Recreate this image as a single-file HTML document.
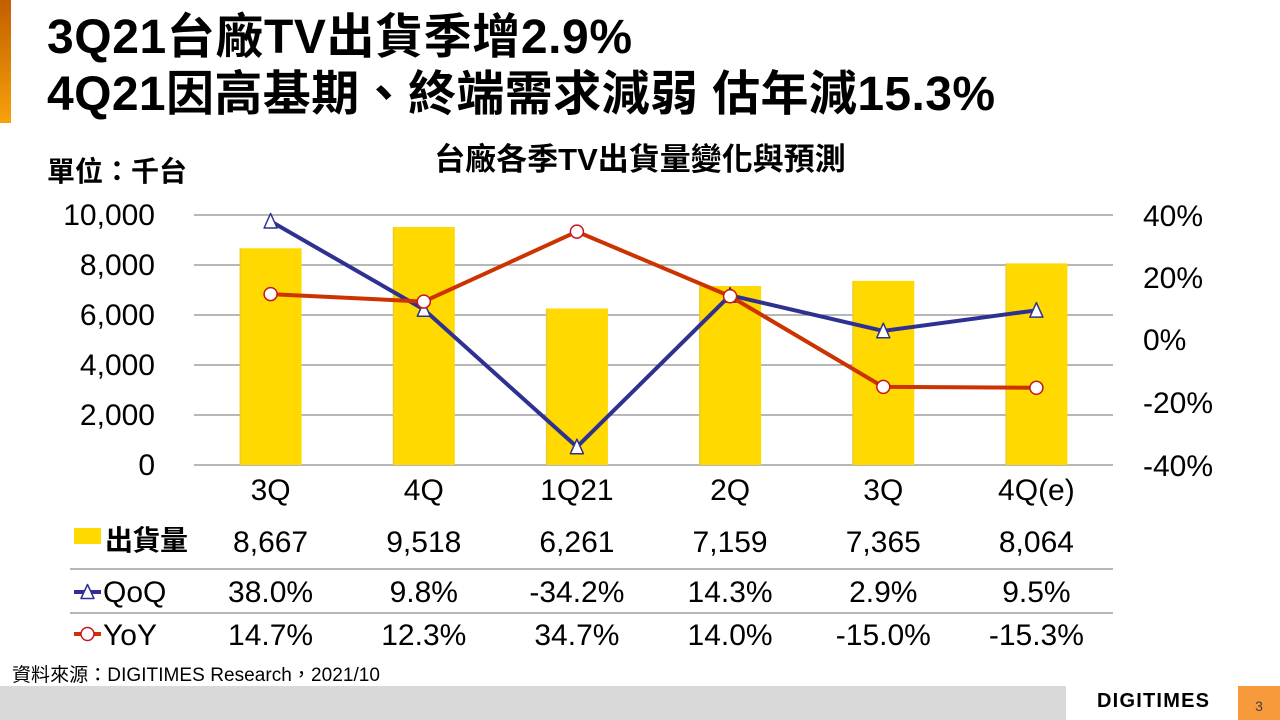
<!DOCTYPE html>
<html>
<head>
<meta charset="utf-8">
<style>
  html,body{margin:0;padding:0;background:#fff;}
  svg{display:block;}
  text{font-family:"Liberation Sans","Noto Sans CJK TC",sans-serif;fill:#000;}
  .b{font-weight:bold;}
</style>
</head>
<body>
<svg width="1280" height="720" viewBox="0 0 1280 720" xmlns="http://www.w3.org/2000/svg">
  <defs>
    <linearGradient id="og" x1="0" y1="0" x2="0" y2="1">
      <stop offset="0" stop-color="#C25E00"/>
      <stop offset="1" stop-color="#F7A10A"/>
    </linearGradient>
    <radialGradient id="cg" cx="0.4" cy="0.35" r="0.7">
      <stop offset="0" stop-color="#ffffff"/>
      <stop offset="0.7" stop-color="#ffffff"/>
      <stop offset="1" stop-color="#e8e0e0"/>
    </radialGradient>
  </defs>

  <!-- left accent bar -->
  <rect x="0" y="0" width="11" height="123" fill="url(#og)"/>

  <!-- titles -->
  <text class="b" x="47" y="53" font-size="48" textLength="585">3Q21台廠TV出貨季增2.9%</text>
  <text class="b" x="47" y="110" font-size="48" textLength="948">4Q21因高基期、終端需求減弱 估年減15.3%</text>

  <text class="b" x="47" y="181" font-size="28" textLength="140">單位：千台</text>
  <text class="b" x="640" y="170" font-size="31" text-anchor="middle">台廠各季TV出貨量變化與預測</text>

  <!-- gridlines -->
  <g stroke="#8c8c8c" stroke-width="1.2">
    <line x1="194" y1="215" x2="1113" y2="215"/>
    <line x1="194" y1="265" x2="1113" y2="265"/>
    <line x1="194" y1="315" x2="1113" y2="315"/>
    <line x1="194" y1="365" x2="1113" y2="365"/>
    <line x1="194" y1="415" x2="1113" y2="415"/>
    <line x1="194" y1="465" x2="1113" y2="465"/>
  </g>

  <!-- left axis labels -->
  <g font-size="30" text-anchor="end">
    <text x="155" y="225">10,000</text>
    <text x="155" y="275">8,000</text>
    <text x="155" y="325">6,000</text>
    <text x="155" y="375">4,000</text>
    <text x="155" y="425">2,000</text>
    <text x="155" y="475">0</text>
  </g>

  <!-- right axis labels -->
  <g font-size="30">
    <text x="1143" y="226">40%</text>
    <text x="1143" y="288">20%</text>
    <text x="1143" y="350">0%</text>
    <text x="1143" y="413">-20%</text>
    <text x="1143" y="476">-40%</text>
  </g>

  <!-- bars -->
  <g fill="#FFD900">
    <rect x="239.6" y="248.3" width="62" height="216.7"/>
    <rect x="392.8" y="227.0" width="62" height="238.0"/>
    <rect x="545.9" y="308.5" width="62" height="156.5"/>
    <rect x="699.1" y="286.0" width="62" height="179.0"/>
    <rect x="852.3" y="280.9" width="62" height="184.1"/>
    <rect x="1005.4" y="263.4" width="62" height="201.6"/>
  </g>
  <g fill="#d8c060" opacity="0.5">
    <rect x="239.6" y="248.3" width="1.5" height="216.7"/>
    <rect x="392.8" y="227.0" width="1.5" height="238.0"/>
    <rect x="545.9" y="308.5" width="1.5" height="156.5"/>
    <rect x="699.1" y="286.0" width="1.5" height="179.0"/>
    <rect x="852.3" y="280.9" width="1.5" height="184.1"/>
    <rect x="1005.4" y="263.4" width="1.5" height="201.6"/>
  </g>

  <!-- QoQ line -->
  <polyline fill="none" stroke="#2E3192" stroke-width="4" stroke-linejoin="round"
    points="270.6,221.25 423.8,309.4 576.9,446.9 730.1,295.3 883.3,330.9 1036.4,310.3"/>
  <g fill="#ffffff" stroke="#2E3192" stroke-width="1.5" stroke-linejoin="round">
    <polygon points="270.6,213.5 277.1,228 264.1,228"/>
    <polygon points="423.8,301.7 430.3,316.2 417.3,316.2"/>
    <polygon points="576.9,439.2 583.4,453.7 570.4,453.7"/>
    <polygon points="730.1,287.6 736.6,302.1 723.6,302.1"/>
    <polygon points="883.3,323.2 889.8,337.7 876.8,337.7"/>
    <polygon points="1036.4,302.6 1042.9,317.1 1029.9,317.1"/>
  </g>

  <!-- YoY line -->
  <polyline fill="none" stroke="#CC3300" stroke-width="4" stroke-linejoin="round"
    points="270.6,294.1 423.8,301.6 576.9,231.6 730.1,296.25 883.3,386.9 1036.4,387.8"/>
  <g fill="url(#cg)" stroke="#C8141E" stroke-width="1.5">
    <circle cx="270.6" cy="294.1" r="6.5"/>
    <circle cx="423.8" cy="301.6" r="6.5"/>
    <circle cx="576.9" cy="231.6" r="6.5"/>
    <circle cx="730.1" cy="296.25" r="6.5"/>
    <circle cx="883.3" cy="386.9" r="6.5"/>
    <circle cx="1036.4" cy="387.8" r="6.5"/>
  </g>

  <!-- x labels -->
  <g font-size="30" text-anchor="middle">
    <text x="270.6" y="500">3Q</text>
    <text x="423.8" y="500">4Q</text>
    <text x="576.9" y="500">1Q21</text>
    <text x="730.1" y="500">2Q</text>
    <text x="883.3" y="500">3Q</text>
    <text x="1036.4" y="500">4Q(e)</text>
  </g>

  <!-- table -->
  <g stroke="#8c8c8c" stroke-width="1.2">
    <line x1="70" y1="569" x2="1113" y2="569"/>
    <line x1="70" y1="613" x2="1113" y2="613"/>
  </g>

  <!-- legend keys -->
  <rect x="74" y="528" width="27" height="16" fill="#FFD900"/>
  <line x1="74" y1="592" x2="101" y2="592" stroke="#2E3192" stroke-width="4"/>
  <polygon points="87.5,584.5 94,598.5 81,598.5" fill="#fff" stroke="#2E3192" stroke-width="1.5" stroke-linejoin="round"/>
  <line x1="74" y1="634" x2="101" y2="634" stroke="#CC3300" stroke-width="4"/>
  <circle cx="87.5" cy="634" r="6.5" fill="url(#cg)" stroke="#C8141E" stroke-width="1.5"/>

  <text class="b" x="105" y="550" font-size="28" textLength="83">出貨量</text>
  <text x="103" y="602" font-size="30">QoQ</text>
  <text x="103" y="645" font-size="30">YoY</text>

  <g font-size="30" text-anchor="middle">
    <text x="270.6" y="552">8,667</text>
    <text x="423.8" y="552">9,518</text>
    <text x="576.9" y="552">6,261</text>
    <text x="730.1" y="552">7,159</text>
    <text x="883.3" y="552">7,365</text>
    <text x="1036.4" y="552">8,064</text>

    <text x="270.6" y="602">38.0%</text>
    <text x="423.8" y="602">9.8%</text>
    <text x="576.9" y="602">-34.2%</text>
    <text x="730.1" y="602">14.3%</text>
    <text x="883.3" y="602">2.9%</text>
    <text x="1036.4" y="602">9.5%</text>

    <text x="270.6" y="645">14.7%</text>
    <text x="423.8" y="645">12.3%</text>
    <text x="576.9" y="645">34.7%</text>
    <text x="730.1" y="645">14.0%</text>
    <text x="883.3" y="645">-15.0%</text>
    <text x="1036.4" y="645">-15.3%</text>
  </g>

  <!-- source -->
  <text x="12" y="681" font-size="19" textLength="368">資料來源：DIGITIMES Research，2021/10</text>

  <!-- footer -->
  <rect x="0" y="686" width="1066" height="34" fill="#D9D9D9"/>
  <text class="b" x="1097" y="707" font-size="20" textLength="112" style="font-weight:900">DIGITIMES</text>
  <rect x="1238" y="686" width="42" height="34" fill="#F79A3C"/>
  <text x="1259" y="711" font-size="14" text-anchor="middle" style="fill:#444">3</text>
</svg>
</body>
</html>
